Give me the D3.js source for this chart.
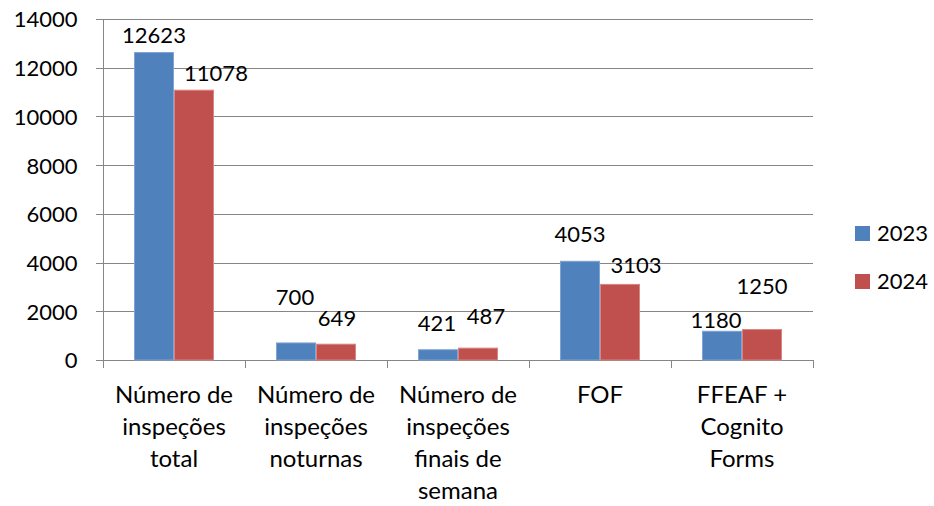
<!DOCTYPE html>
<html lang="pt">
<head>
<meta charset="UTF-8">
<title>Inspeções 2023 vs 2024</title>
<script src="https://d3js.org/d3.v7.min.js"></script>
<style>
  body { margin: 0; background: #fff; }
  text { font-family: Lato, "Open Sans", sans-serif; fill: #000; }
  .grid line, .axis line, .axis path { stroke: #868686; stroke-width: 1; shape-rendering: crispEdges; }
</style>
</head>
<body>
<script>
// chart data
const categories = [
  ["Número de", "inspeções", "total"],
  ["Número de", "inspeções", "noturnas"],
  ["Número de", "inspeções", "finais de", "semana"],
  ["FOF"],
  ["FFEAF +", "Cognito", "Forms"]
];
const years = ["2023", "2024"];
const values2023 = [12623, 700, 421, 4053, 1180];
const values2024 = [11078, 649, 487, 3103, 1250];
const yTicks = [0, 2000, 4000, 6000, 8000, 10000, 12000, 14000];

const colors = { "2023": "#4F81BD", "2024": "#C0504D" };
const strokes = { "2023": "#7FA3D3", "2024": "#D98582" };

// label nudges (dx from bar centre, dy of baseline from bar top), as placed in the original
const labelNudge = {
  "2023": [[0, -10], [-1, -38], [-1, -19], [0, -19], [-6, -3]],
  "2024": [[22, -9], [1, -18], [8, -24], [16, -11], [0, -36]]
};

const width = 934, height = 506;
const margin = { left: 103, right: 121, top: 19, bottom: 146 };
const plotW = width - margin.left - margin.right;
const plotH = height - margin.top - margin.bottom;

const svg = d3.select("body").append("svg")
  .attr("width", width)
  .attr("height", height);

const x0 = d3.scaleBand()
  .domain(d3.range(categories.length))
  .range([margin.left, margin.left + plotW])
  .padding(0);

const x1 = d3.scaleBand()
  .domain(years)
  .range([0, x0.bandwidth()])
  .paddingInner(0)
  .paddingOuter(0.775);

const y = d3.scaleLinear()
  .domain([0, 14000])
  .range([margin.top + plotH, margin.top]);

// gridlines
svg.append("g").attr("class", "grid")
  .selectAll("line")
  .data(yTicks.slice(1))
  .join("line")
  .attr("x1", margin.left)
  .attr("x2", margin.left + plotW)
  .attr("y1", d => Math.round(y(d)) + 0.5)
  .attr("y2", d => Math.round(y(d)) + 0.5);

// y axis
const yAxis = svg.append("g").attr("class", "axis")
  .attr("transform", `translate(${margin.left + 0.5},0)`)
  .call(d3.axisLeft(y).tickValues(yTicks).tickSize(8).tickPadding(18).tickFormat(d3.format("d")));
yAxis.selectAll("text")
  .style("font-size", "22px")
  .attr("dy", "0.36em");
yAxis.select(".domain").attr("d", `M0,${y(0)}V${y(14000)}`);

// x axis line with ticks between categories
const xg = svg.append("g").attr("class", "axis");
xg.append("line")
  .attr("x1", margin.left).attr("x2", margin.left + plotW)
  .attr("y1", Math.round(y(0)) + 0.5).attr("y2", Math.round(y(0)) + 0.5);
const bounds = d3.range(categories.length).map(i => x0(i)).concat([x0.range()[1]]);
xg.selectAll(".tk")
  .data(bounds)
  .join("line")
  .attr("class", "tk")
  .attr("x1", d => Math.round(d) + 0.5).attr("x2", d => Math.round(d) + 0.5)
  .attr("y1", y(0)).attr("y2", y(0) + 8);

// category labels
svg.append("g")
  .selectAll("text")
  .data(categories)
  .join("text")
  .attr("text-anchor", "middle")
  .style("font-size", "24px")
  .each(function(lines, i) {
    d3.select(this).selectAll("tspan")
      .data(lines)
      .join("tspan")
      .attr("x", x0(i) + x0.bandwidth() / 2)
      .attr("y", (d, k) => 403 + k * 32)
      .text(d => d);
  });

// bars
const series = years.map(yr => ({
  year: yr,
  values: yr === "2023" ? values2023 : values2024
}));

const barData = series.flatMap(s => s.values.map((v, i) => ({ year: s.year, i, v })));

svg.append("g")
  .selectAll("rect")
  .data(barData)
  .join("rect")
  .attr("x", d => x0(d.i) + x1(d.year) + 0.5)
  .attr("y", d => y(d.v))
  .attr("width", x1.bandwidth() - 1)
  .attr("height", d => y(0) - y(d.v))
  .attr("fill", d => colors[d.year])
  .attr("stroke", d => strokes[d.year])
  .attr("stroke-width", 1);

// value labels
svg.append("g")
  .selectAll("text")
  .data(barData)
  .join("text")
  .attr("text-anchor", "middle")
  .style("font-size", "22px")
  .attr("x", d => x0(d.i) + x1(d.year) + x1.bandwidth() / 2 + labelNudge[d.year][d.i][0])
  .attr("y", d => y(d.v) + labelNudge[d.year][d.i][1])
  .text(d => d.v);

// legend
const legend = svg.append("g")
  .selectAll("g")
  .data(years)
  .join("g")
  .attr("transform", (d, k) => `translate(855,${226 + k * 48})`);
legend.append("rect")
  .attr("width", 15).attr("height", 15)
  .attr("fill", d => colors[d]);
legend.append("text")
  .attr("x", 22).attr("y", 15)
  .style("font-size", "22px")
  .text(d => d);
</script>
</body>
</html>
